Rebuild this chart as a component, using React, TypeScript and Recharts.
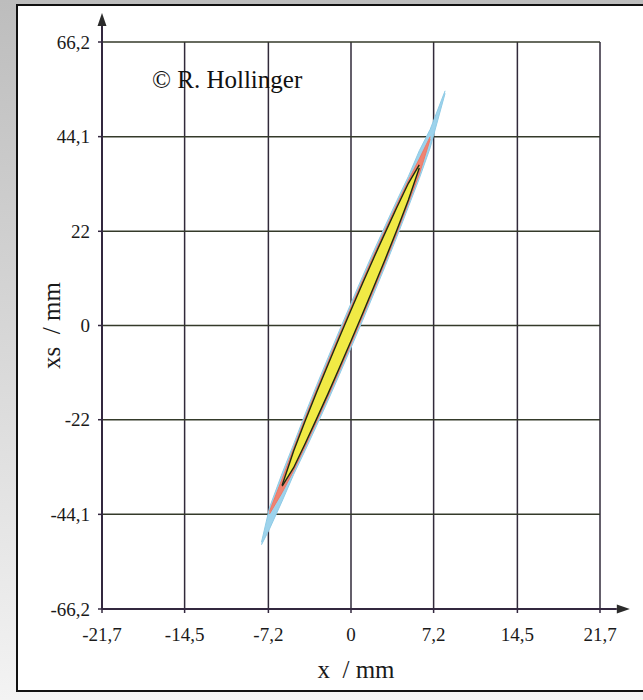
import React from "react";
import {
  Area,
  CartesianGrid,
  ComposedChart,
  Label,
  ReferenceLine,
  XAxis,
  YAxis,
} from "recharts";

// Phase-space plot (x vs. xs), scanned look: thin tilted beam ellipse with
// cyan / red halos around a yellow core.

const xTicks = [-21.7, -14.5, -7.2, 0, 7.2, 14.5, 21.7];
const yTicks = [-66.2, -44.1, -22, 0, 22, 44.1, 66.2];

const sampleX = [-7.8, -7.1, -6.0, -5, -4, -3, -2, -1, 0, 1, 2, 3, 4, 5, 5.95, 6.9, 8.2];

// [lower, upper] xs (mm) at each sample, null where the layer is absent
const cyanBand = [
  [-51.2, -50.6], [-47.5, -42.5], [-41.0, -34.5], [-34.8, -27.7], [-29.2, -20.7],
  [-23.4, -14.0], [-17.5, -7.5], [-11.4, -1.1], [-5.2, 5.2], [1.1, 11.4],
  [7.5, 17.5], [14.0, 23.4], [20.7, 29.2], [27.7, 34.8], [34.3, 40.8],
  [41.5, 45.8], [54.2, 54.8],
];
const redBand = [
  null, [-44.0, -43.4], [-39.0, -35.8], [-33.9, -28.6], [-28.3, -21.6],
  [-22.5, -14.9], [-16.6, -8.4], [-10.5, -2.0], [-4.3, 4.3], [2.0, 10.5],
  [8.4, 16.6], [14.9, 22.5], [21.6, 28.3], [28.6, 33.9], [35.3, 38.9],
  [43.5, 44.1], null,
];
const coreBand = [
  null, null, [-37.5, -37.3], [-33.2, -29.3], [-27.6, -22.3],
  [-21.8, -15.6], [-15.9, -9.1], [-9.8, -2.7], [-3.6, 3.6], [2.7, 9.8],
  [9.1, 15.9], [15.6, 21.8], [22.3, 27.6], [29.3, 33.2], [36.8, 37.5],
  null, null,
];

const data = sampleX.map((x, i) => ({
  x,
  cyan: cyanBand[i],
  red: redBand[i],
  core: coreBand[i],
}));

const SERIF = '"Liberation Serif", "Times New Roman", serif';
const AXIS = "#33283f";

const fmt = (v: number) => String(v).replace(".", ",");

// axis line ending in a filled arrow head (endpoints come from the scales)
function AxisArrow(props: any) {
  const { x1, y1, x2, y2 } = props;
  const ang = Math.atan2(y2 - y1, x2 - x1);
  const len = 13;
  const half = 4.5;
  const bx = x2 - len * Math.cos(ang);
  const by = y2 - len * Math.sin(ang);
  const px = -Math.sin(ang) * half;
  const py = Math.cos(ang) * half;
  return (
    <g>
      <line x1={x1} y1={y1} x2={bx} y2={by} stroke={AXIS} strokeWidth={2} />
      <polygon
        points={`${x2},${y2} ${bx + px},${by + py} ${bx - px},${by - py}`}
        fill="#2b2b2b"
      />
    </g>
  );
}

export default function App() {
  return (
    <div
      style={{
        position: "absolute",
        left: 0,
        top: 0,
        width: 643,
        height: 700,
        overflow: "hidden",
        background: "linear-gradient(to bottom, #bdbdbd, #f3f3f3)",
      }}
    >
      <div
        style={{
          position: "absolute",
          left: 16,
          top: 4,
          width: 660,
          height: 688,
          boxSizing: "border-box",
          border: "2px solid #111",
          background: "#fff",
        }}
      />
      <div style={{ position: "absolute", left: 0, top: 0 }}>
        <ComposedChart
          width={643}
          height={700}
          data={data}
          margin={{ top: 42, right: 43, bottom: 31, left: 0 }}
        >
          <CartesianGrid horizontal={false} stroke="#312a3a" strokeWidth={1.5} />
          <CartesianGrid vertical={false} stroke="#343a2a" strokeWidth={1.5} />
          <XAxis
            type="number"
            dataKey="x"
            domain={[-21.7, 21.7]}
            ticks={xTicks}
            tickFormatter={fmt}
            allowDataOverflow
            height={60}
            axisLine={false}
            tickSize={4}
            tickMargin={15}
            tickLine={{ stroke: AXIS, strokeWidth: 1.5 }}
            tick={{ fontFamily: SERIF, fontSize: 19, fill: "#1a1a1a" }}
          >
            <Label
              value={"x\u00a0\u00a0/ mm"}
              position="bottom"
              offset={-9}
              dx={5}
              style={{ fontFamily: SERIF, fontSize: 25, fill: "#1a1a1a" }}
            />
          </XAxis>
          <YAxis
            type="number"
            domain={[-66.2, 66.2]}
            ticks={yTicks}
            tickFormatter={fmt}
            allowDataOverflow
            width={102}
            axisLine={false}
            tickSize={4}
            tickMargin={8}
            tickLine={{ stroke: AXIS, strokeWidth: 1.5 }}
            tick={{ fontFamily: SERIF, fontSize: 19, fill: "#1a1a1a" }}
          >
            <Label
              value={"xs\u00a0\u00a0/ mm"}
              angle={-90}
              position="center"
              style={{ fontFamily: SERIF, fontSize: 25, fill: "#1a1a1a" }}
            />
          </YAxis>
          <Area
            type="linear"
            dataKey="cyan"
            stroke="#8fcbe6"
            strokeWidth={1}
            fill="#9dd3ec"
            fillOpacity={1}
            dot={false}
            activeDot={false}
            isAnimationActive={false}
          />
          <Area
            type="linear"
            dataKey="red"
            stroke="#ee7a68"
            strokeWidth={1}
            fill="#f08472"
            fillOpacity={1}
            dot={false}
            activeDot={false}
            isAnimationActive={false}
          />
          <Area
            type="linear"
            dataKey="core"
            stroke="#1d2a16"
            strokeWidth={1.4}
            fill="#f1ea45"
            fillOpacity={1}
            dot={false}
            activeDot={false}
            isAnimationActive={false}
          />
          <ReferenceLine
            segment={[{ x: -21.7, y: -66.2 }, { x: -21.7, y: 73 }]}
            ifOverflow="visible"
            shape={AxisArrow}
          />
          <ReferenceLine
            segment={[{ x: -21.7, y: -66.2 }, { x: 24.3, y: -66.2 }]}
            ifOverflow="visible"
            shape={AxisArrow}
          />
        </ComposedChart>
      </div>
      <div
        style={{
          position: "absolute",
          left: 152,
          top: 66,
          fontFamily: SERIF,
          fontSize: 25,
          color: "#111",
          whiteSpace: "nowrap",
        }}
      >
        © R. Hollinger
      </div>
    </div>
  );
}
